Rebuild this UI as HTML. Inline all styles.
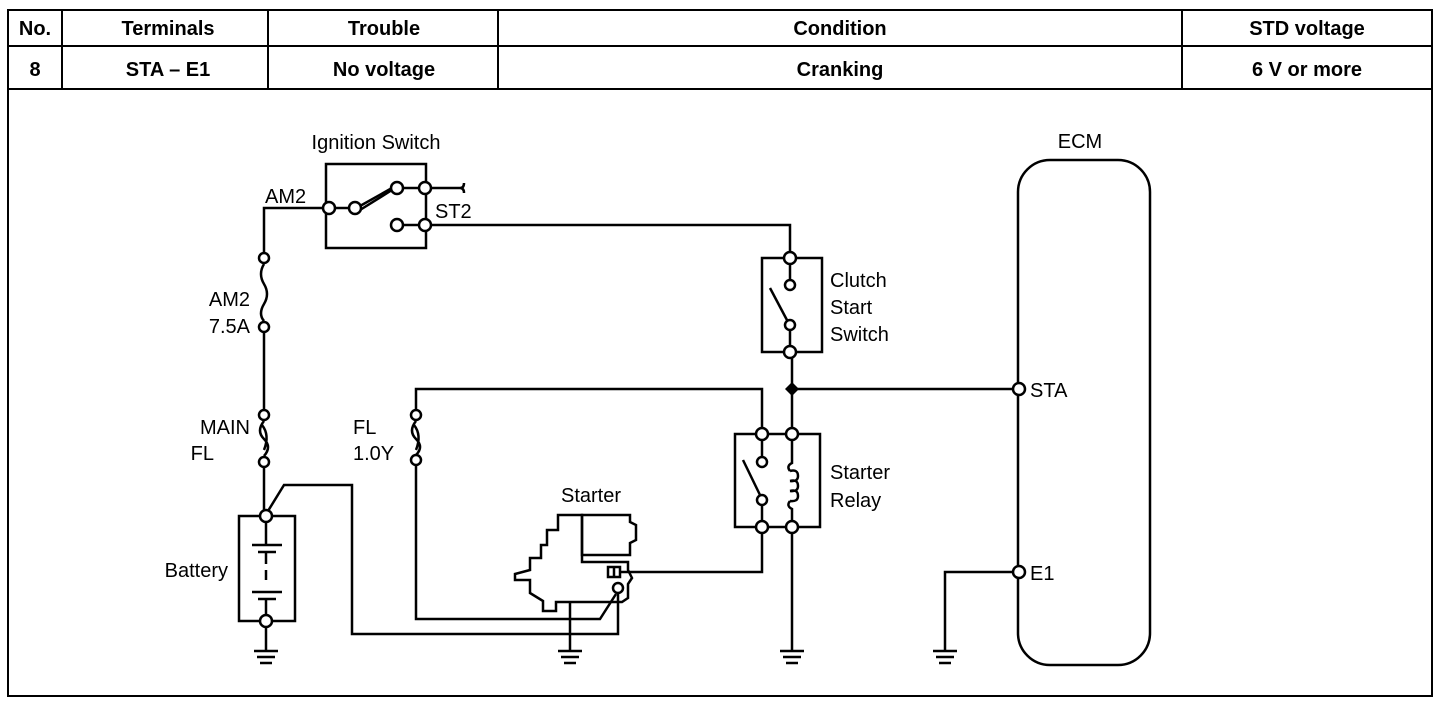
<!DOCTYPE html>
<html><head><meta charset="utf-8"><style>
html,body{margin:0;padding:0;background:#fff;}
svg{display:block;}
text{font-family:"Liberation Sans",sans-serif;fill:#000;}
.h{font-weight:bold;font-size:20px;}
.l{font-size:20px;}
</style></head><body>
<svg width="1440" height="704" viewBox="0 0 1440 704" xmlns="http://www.w3.org/2000/svg">
<g stroke="#000" stroke-width="2" fill="none">
<rect x="8" y="10" width="1424" height="686"/>
<line x1="8" y1="46" x2="1432" y2="46"/>
<line x1="8" y1="89" x2="1432" y2="89"/>
<line x1="62" y1="10" x2="62" y2="89"/>
<line x1="268" y1="10" x2="268" y2="89"/>
<line x1="498" y1="10" x2="498" y2="89"/>
<line x1="1182" y1="10" x2="1182" y2="89"/>
</g>
<g class="h" text-anchor="middle">
<text x="35" y="35" class="h">No.</text>
<text x="168" y="35" class="h">Terminals</text>
<text x="384" y="35" class="h">Trouble</text>
<text x="840" y="35" class="h">Condition</text>
<text x="1307" y="35" class="h">STD voltage</text>
<text x="35" y="76" class="h">8</text>
<text x="168" y="76" class="h">STA – E1</text>
<text x="384" y="76" class="h">No voltage</text>
<text x="840" y="76" class="h">Cranking</text>
<text x="1307" y="76" class="h">6 V or more</text>
</g>

<g stroke="#000" stroke-width="2.5" fill="none">
<rect x="326" y="164" width="100" height="84"/>
<polyline points="329,208 264,208 264,252"/>
<line x1="335" y1="208" x2="349" y2="208"/>
<polyline points="360,206 392,188"/><polyline points="360,210 392,190"/>
<line x1="403" y1="188" x2="419" y2="188"/>
<line x1="403" y1="225" x2="419" y2="225"/>
<path d="M431,188 H460 q4,0 4,-5 M460,188 q4,0 4,5"/>
<polyline points="431,225 790,225 790,252"/>
<path d="M264,264 q-6,10 0,20 q6,10 0,20 q-6,10 0,17"/>
<line x1="264" y1="333" x2="264" y2="409"/>
<path d="M264,421 q-8,10 0,18 q8,8 0,17"/>
<path d="M262,425 q8,10 2,25"/>
<line x1="264" y1="468" x2="264" y2="510"/>
<rect x="239" y="516" width="56" height="105"/>
<line x1="266" y1="522" x2="266" y2="545"/>
<line x1="252" y1="545" x2="282" y2="545"/>
<line x1="258" y1="552" x2="276" y2="552"/>
<line x1="266" y1="552" x2="266" y2="564"/>
<line x1="266" y1="570" x2="266" y2="580"/>
<line x1="252" y1="592" x2="282" y2="592"/>
<line x1="258" y1="599" x2="276" y2="599"/>
<line x1="266" y1="599" x2="266" y2="615"/>
<line x1="266" y1="627" x2="266" y2="650"/>
<polyline points="268,511 284,485 352,485 352,634 618,634 618,594"/>
<polyline points="416,409 416,389 762,389 762,428"/>
<path d="M416,421 q-8,10 0,18 q8,8 0,16"/>
<path d="M414,425 q8,10 2,25"/>
<polyline points="416,466 416,619 600,619 616,594"/>
<polygon points="558,515 582,515 582,555 582,562 628,562 628,570 632,578 628,584 628,598 622,602 570,602 556,602 556,611 543,611 543,601 530,593 530,580 515,580 515,574 530,570 530,558 541,558 541,545 547,545 547,530 558,530"/>
<path d="M582,515 V555 H630 V543 L636,540 V525 L630,522 V515 Z"/>
<rect x="608" y="567" width="12" height="10"/>
<line x1="614" y1="567" x2="614" y2="577"/>
<polyline points="620,572 762,572 762,532"/>
<line x1="570" y1="602" x2="570" y2="650"/>
<rect x="762" y="258" width="60" height="94"/>
<line x1="790" y1="263" x2="790" y2="280"/>
<line x1="770" y1="288" x2="788" y2="322"/>
<line x1="790" y1="330" x2="790" y2="347"/>
<line x1="792" y1="358" x2="792" y2="428"/>
<line x1="792" y1="389" x2="1014" y2="389"/>
<rect x="735" y="434" width="85" height="93"/>
<line x1="762" y1="440" x2="762" y2="457"/>
<line x1="743" y1="460" x2="760" y2="495"/>
<line x1="762" y1="506" x2="762" y2="521"/>
<path d="M792,440 V463 q-6,3 -2,8 M790,471 q8,-2 8,5 q0,6 -8,5 M790,481 q8,-2 8,5 q0,6 -8,5 M790,491 q8,-2 8,5 q0,6 -8,5 M790,501 q-4,5 2,8 V521"/>
<line x1="792" y1="533" x2="792" y2="650"/>
<rect x="1018" y="160" width="132" height="505" rx="32"/>
<polyline points="1014,572 945,572 945,650"/>
</g>
<g stroke="#000" stroke-width="2.5">
<line x1="254" y1="651" x2="278" y2="651"/><line x1="257" y1="657" x2="275" y2="657"/><line x1="260" y1="663" x2="272" y2="663"/>
<line x1="558" y1="651" x2="582" y2="651"/><line x1="561" y1="657" x2="579" y2="657"/><line x1="564" y1="663" x2="576" y2="663"/>
<line x1="780" y1="651" x2="804" y2="651"/><line x1="783" y1="657" x2="801" y2="657"/><line x1="786" y1="663" x2="798" y2="663"/>
<line x1="933" y1="651" x2="957" y2="651"/><line x1="936" y1="657" x2="954" y2="657"/><line x1="939" y1="663" x2="951" y2="663"/>
</g>
<g stroke="#000" stroke-width="2.5" fill="#fff">
<circle cx="329" cy="208" r="6"/><circle cx="355" cy="208" r="6"/><circle cx="397" cy="188" r="6"/>
<circle cx="425" cy="188" r="6"/><circle cx="397" cy="225" r="6"/><circle cx="425" cy="225" r="6"/>
<circle cx="264" cy="258" r="5"/><circle cx="264" cy="327" r="5"/>
<circle cx="264" cy="415" r="5"/><circle cx="264" cy="462" r="5"/>
<circle cx="416" cy="415" r="5"/><circle cx="416" cy="460" r="5"/>
<circle cx="266" cy="516" r="6"/><circle cx="266" cy="621" r="6"/>
<circle cx="618" cy="588" r="5"/>
<circle cx="790" cy="258" r="6"/><circle cx="790" cy="285" r="5"/><circle cx="790" cy="325" r="5"/><circle cx="790" cy="352" r="6"/>
<circle cx="762" cy="434" r="6"/><circle cx="792" cy="434" r="6"/><circle cx="762" cy="462" r="5"/><circle cx="762" cy="500" r="5"/>
<circle cx="762" cy="527" r="6"/><circle cx="792" cy="527" r="6"/>
<circle cx="1019" cy="389" r="6"/><circle cx="1019" cy="572" r="6"/>
</g>
<polygon points="792,382 799,389 792,396 785,389" fill="#000"/>
<g class="l">
<text x="376" y="149" text-anchor="middle" class="l">Ignition Switch</text>
<text x="265" y="203" class="l">AM2</text>
<text x="435" y="218" class="l">ST2</text>
<text x="250" y="306" text-anchor="end" class="l">AM2</text>
<text x="250" y="333" text-anchor="end" class="l">7.5A</text>
<text x="250" y="434" text-anchor="end" class="l">MAIN</text>
<text x="214" y="460" text-anchor="end" class="l">FL</text>
<text x="353" y="434" class="l">FL</text>
<text x="353" y="460" class="l">1.0Y</text>
<text x="228" y="577" text-anchor="end" class="l">Battery</text>
<text x="591" y="502" text-anchor="middle" class="l">Starter</text>
<text x="830" y="287" class="l">Clutch</text>
<text x="830" y="314" class="l">Start</text>
<text x="830" y="341" class="l">Switch</text>
<text x="830" y="479" class="l">Starter</text>
<text x="830" y="507" class="l">Relay</text>
<text x="1080" y="148" text-anchor="middle" class="l">ECM</text>
<text x="1030" y="397" class="l">STA</text>
<text x="1030" y="580" class="l">E1</text>
</g>
</svg>
</body></html>
